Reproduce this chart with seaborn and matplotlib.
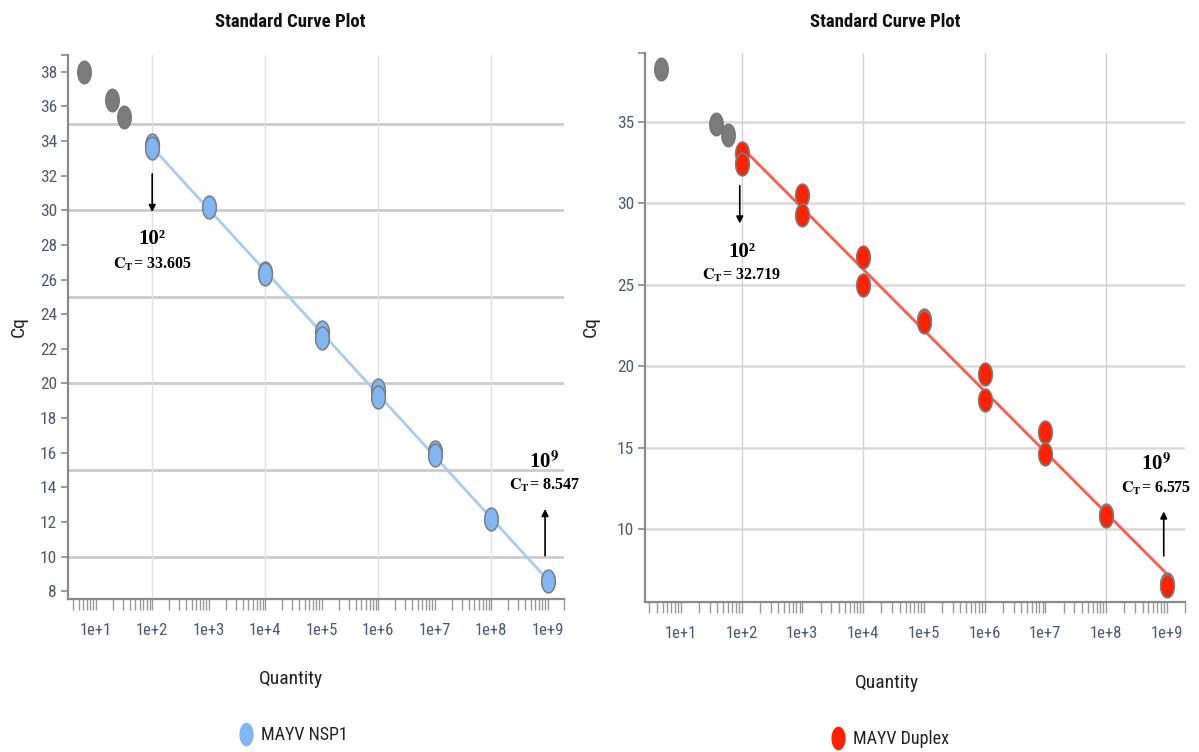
import numpy as np
import pandas as pd
import matplotlib
matplotlib.use("Agg")
import matplotlib.pyplot as plt
import seaborn as sns
from matplotlib.path import Path
from matplotlib.lines import Line2D
from matplotlib import font_manager
from matplotlib.ticker import FixedLocator, FixedFormatter, NullFormatter

# ---------------- data ----------------
nsp1_qty = [1e2, 1e2, 1e3, 1e4, 1e4, 1e5, 1e5, 1e6, 1e6, 1e7, 1e7, 1e8, 1e9]
nsp1_cq = [33.8, 33.6, 30.2, 26.4, 26.3, 22.95, 22.6, 19.6, 19.2, 16.05, 15.85, 12.15, 8.6]
nsp1_other_qty = [6.3, 19.3, 32.2]
nsp1_other_cq = [38.0, 36.35, 35.4]

duplex_qty = [1e2, 1e2, 1e3, 1e3, 1e4, 1e4, 1e5, 1e5, 1e6, 1e6, 1e7, 1e7, 1e8, 1e8, 1e9, 1e9]
duplex_cq = [33.1, 32.4, 30.5, 29.25, 26.7, 25.0, 22.85, 22.7, 19.55, 17.95, 16.0, 14.65,
             10.9, 10.8, 6.65, 6.55]
duplex_other_qty = [4.8, 38.5, 59.6]
duplex_other_cq = [38.2, 34.85, 34.2]

x_tick_values = [1e1, 1e2, 1e3, 1e4, 1e5, 1e6, 1e7, 1e8, 1e9]
x_tick_labels = ["1e+1", "1e+2", "1e+3", "1e+4", "1e+5", "1e+6", "1e+7", "1e+8", "1e+9"]
nsp1_y_ticks = [8, 10, 12, 14, 16, 18, 20, 22, 24, 26, 28, 30, 32, 34, 36, 38]
duplex_y_ticks = [10, 15, 20, 25, 30, 35]
grid_y = [10, 15, 20, 25, 30, 35]
grid_x = [1e2, 1e4, 1e6, 1e8]

nsp1_label = "MAYV NSP1"
duplex_label = "MAYV Duplex"
title_text = "Standard Curve Plot"

# ---------------- style ----------------
sns.set_style("white")
names = {f.name for f in font_manager.fontManager.ttflist}
narrow = next((n for n in ["Liberation Sans Narrow", "Roboto Condensed", "Open Sans Condensed"]
               if n in names), "Liberation Sans")
plt.rcParams["font.family"] = [narrow, "DejaVu Sans"]
plt.rcParams["mathtext.fontset"] = "stix"
SERIF = ["Liberation Serif", "DejaVu Serif"]

theta = np.linspace(0, 2 * np.pi, 80)
ellipse = Path(np.column_stack([0.6 * np.cos(theta), np.sin(theta)]), closed=True)

TICK_COLOR = "#4b5a73"
AXIS_COLOR = "#8a8a8a"

fig = plt.figure(figsize=(11.99, 7.52), dpi=100)
W, H = 1199, 752


def px_axes(x0, y0, x1, y1):
    return fig.add_axes([x0 / W, 1 - y1 / H, (x1 - x0) / W, (y1 - y0) / H])


def panel(ax, qty, cq, oqty, ocq, fill, line_color, xlim, ylim, yticks,
          hgrid_color, hgrid_lw, vgrid_color):
    ax.set_xscale("log")
    for g in grid_y:
        ax.axhline(g, color=hgrid_color, lw=hgrid_lw, zorder=0)
    for g in grid_x:
        ax.axvline(g, color=vgrid_color, lw=1.0, zorder=0)
    df = pd.DataFrame({"qty": qty, "cq": cq})
    sns.regplot(data=df, x="qty", y="cq", logx=True, scatter=False, ci=None, ax=ax,
                line_kws=dict(color=line_color, lw=2.0, zorder=2))
    sns.scatterplot(x=oqty, y=ocq, ax=ax, marker=ellipse, s=270, color="#7b7b7b",
                    edgecolor="#727272", linewidth=0.8, zorder=3)
    sns.scatterplot(data=df, x="qty", y="cq", ax=ax, marker=ellipse, s=270, color=fill,
                    edgecolor="#7d7d7d", linewidth=1.1, zorder=4)
    ax.set_xlim(*xlim)
    ax.set_ylim(*ylim)
    ax.set_xlabel("")
    ax.set_ylabel("")
    # x ticks
    ax.xaxis.set_major_locator(FixedLocator(x_tick_values))
    ax.xaxis.set_major_formatter(FixedFormatter(x_tick_labels))
    minors = [j * 10.0 ** k for k in range(0, 10) for j in range(2, 10)
              if xlim[0] <= j * 10.0 ** k <= xlim[1]] + [xlim[1]]
    ax.xaxis.set_minor_locator(FixedLocator(minors))
    ax.xaxis.set_minor_formatter(NullFormatter())
    ax.tick_params(axis="x", which="both", bottom=True, direction="out", length=8, width=1,
                   color="#9a9a9a", labelcolor=TICK_COLOR, labelsize=12, pad=9)
    # y ticks (+ outer tick at domain end)
    ax.set_yticks(list(yticks) + [ylim[1]])
    ax.set_yticklabels([str(t) for t in yticks] + [""])
    ax.tick_params(axis="y", left=True, direction="out", length=5, width=1.2, color=AXIS_COLOR,
                   labelcolor=TICK_COLOR, labelsize=12.5, pad=3)
    for s in ["top", "right"]:
        ax.spines[s].set_visible(False)
    for s in ["left", "bottom"]:
        ax.spines[s].set_color(AXIS_COLOR)
        ax.spines[s].set_linewidth(1.6)


def annotate(ax, x_txt, y_pow, y_ct, pow_txt, ct_txt, x_arr, y_from, y_to):
    ax.text(x_txt, y_pow, pow_txt, ha="center", va="center", fontsize=15, color="black",
            fontweight="bold", family=SERIF, zorder=6)
    ax.text(x_txt, y_ct, ct_txt, ha="center", va="center", fontsize=11.5, color="black",
            fontweight="bold", family=SERIF, zorder=6)
    ax.annotate("", xy=(x_arr, y_to), xytext=(x_arr, y_from),
                arrowprops=dict(arrowstyle="-|>", color="black", lw=1.2,
                                mutation_scale=10, shrinkA=0, shrinkB=0), zorder=6)


CT = r"$\mathbf{C_{T}}$"

# ---------------- left panel ----------------
axL = px_axes(68, 55, 564, 599)
panel(axL, nsp1_qty, nsp1_cq, nsp1_other_qty, nsp1_other_cq,
      fill="#7fb6f4", line_color="#a9cdf1",
      xlim=(10 ** 0.51, 10 ** 9.285), ylim=(7.55, 38.97), yticks=nsp1_y_ticks,
      hgrid_color="#cccccc", hgrid_lw=2.0, vgrid_color="#e2e2e2")
annotate(axL, 1e2, 28.35, 26.9, "10²", CT + "= 33.605", 1e2, 32.1, 29.9)
annotate(axL, 10 ** 8.93, 15.45, 14.1, r"10$^{\mathbf{9}}$", CT + "= 8.547",
         10 ** 8.95, 10.05, 12.75)

# ---------------- right panel ----------------
axR = px_axes(645, 53, 1185, 602)
panel(axR, duplex_qty, duplex_cq, duplex_other_qty, duplex_other_cq,
      fill="#ff2200", line_color="#ff5b4d",
      xlim=(10 ** 0.41, 10 ** 9.30), ylim=(5.55, 39.2), yticks=duplex_y_ticks,
      hgrid_color="#dadada", hgrid_lw=1.8, vgrid_color="#d4d4d4")
annotate(axR, 1e2, 27.0, 25.6, "10²", CT + "= 32.719", 10 ** 1.97, 31.06, 28.75)
annotate(axR, 10 ** 8.82, 14.0, 12.54, r"10$^{\mathbf{9}}$", CT + "= 6.575",
         10 ** 8.95, 8.38, 11.1)

# ---------------- titles, labels, legends ----------------
for cx, ty in [(290, 22), (885, 22)]:
    fig.text(cx / W, 1 - ty / H, title_text, ha="center", va="center",
             fontsize=13.5, fontweight="bold", color="#111111")
for cx, cy in [(19, 327), (591, 327)]:
    fig.text(cx / W, 1 - cy / H, "Cq", rotation=90, ha="center", va="center",
             fontsize=14, color="#222222")
for cx, cy in [(291, 679), (887, 683)]:
    fig.text(cx / W, 1 - cy / H, "Quantity", ha="center", va="center",
             fontsize=14, color="#222222")

for ax, fill, label, mx, my in [(axL, "#7fb6f4", nsp1_label, 238, 735),
                                (axR, "#ff2200", duplex_label, 830, 739)]:
    h = Line2D([], [], marker=ellipse, linestyle="", markersize=17,
               markerfacecolor=fill, markeredgecolor="none")
    ax.legend(handles=[h], labels=[label], loc="center left",
              bbox_to_anchor=(mx / W, 1 - my / H), bbox_transform=fig.transFigure,
              frameon=False, handlelength=0.9, handletextpad=0.35, borderpad=0,
              borderaxespad=0, prop={"size": 13}, labelcolor="#222222")

fig.savefig("out.png", dpi=100)
